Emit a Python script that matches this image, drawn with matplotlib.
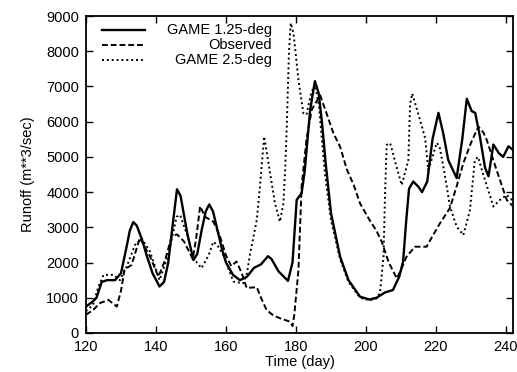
import matplotlib
matplotlib.use("Agg")
import matplotlib.pyplot as plt
from matplotlib.lines import Line2D

plt.rcParams['font.family'] = ['Liberation Sans', 'DejaVu Sans']

# runoff series, day of year vs m**3/sec
game125_day = [120, 122, 123, 124.5, 126, 128.3, 130, 131.5, 132.5, 133.5, 134.5, 136, 137.5,
               139, 141, 142.3, 143.5, 144.8, 146, 147, 148, 149, 150.7, 151.8, 153,
               154.2, 155.2, 156.3, 157.5, 158.8, 160, 162, 164, 166, 168, 170, 172, 173,
               175, 177.7, 179, 180.2, 181.6, 182.5, 184, 185.4, 186.5, 187.5, 188.5,
               190, 192.6, 195, 198.3, 201, 203, 205.4, 207.7, 209.5, 210.6, 211.5,
               212.3, 213.5, 215, 216, 217.5, 219, 220.7, 222, 223.5, 225.9, 227.5,
               228.8, 230.2, 231.2, 232.5, 234, 235, 236.4, 238, 239.2, 240.7, 242]
game125_q = [750, 900, 1000, 1450, 1500, 1500, 1700, 2400, 2900, 3150, 3050, 2650, 2150,
             1700, 1320, 1450, 2000, 3100, 4080, 3900, 3350, 2800, 2070, 2250, 2900,
             3450, 3650, 3450, 2950, 2400, 2000, 1650, 1500, 1600, 1850, 1950, 2180, 2100,
             1750, 1480, 2000, 3780, 3970, 4600, 6300, 7150, 6800, 5900, 4800,
             3400, 2170, 1500, 1030, 950, 1000, 1150, 1220, 1600, 2030, 3200,
             4100, 4300, 4150, 4000, 4300, 5500, 6250, 5700, 4910, 4400, 5500,
             6650, 6300, 6250, 5600, 4700, 4450, 5350, 5100, 5000, 5300, 5200]

obs_day = [120, 122, 124, 126.4, 128.8, 130, 131, 133, 135.4, 138.3, 140.7, 142.6, 144.5,
           146, 148, 150.5, 151.5, 152.6, 154, 156.4, 158.3, 160, 161.5, 163, 164.5,
           165.9, 168.8, 170, 171.6, 173.5, 175.4, 178.3, 179, 179.5, 180.7, 181.6, 183,
           184.5, 186.9, 188.5, 190.7, 192.6, 194.5, 196.5, 198.3, 201, 203, 204.5,
           206.5, 208.8, 210, 211.6, 214, 217.3, 219, 221.1, 224, 226, 227.8, 230,
           232.1, 233.5, 234.5, 237.3, 240.2, 242]
obs_q = [520, 650, 850, 940, 750, 1200, 1800, 1930, 2700, 2170, 1600, 2070, 2740,
         2800, 2600, 2100, 2700, 3600, 3300, 3160, 2740, 2200, 1900, 2030, 1700,
         1280, 1300, 1000, 650, 500, 420, 320, 200, 500, 1790, 4160, 5500,
         6340, 6750, 6300, 5670, 5290, 4650, 4200, 3680, 3210, 2900, 2590,
         2000, 1550, 1800, 2170, 2450, 2450, 2750, 3110, 3550, 4200, 4820, 5400,
         5860, 5700, 5480, 4630, 3780, 3600]

game25_day = [120, 122, 123.5, 125, 127.8, 129.7, 131.6, 134, 135.9, 138.3, 141, 143.5,
              145.9, 146.9, 149.2, 150.7, 153, 155, 156.4, 157.5, 159.2, 162.1, 164.9,
              166, 166.9, 168.8, 169.7, 170.9, 172.6, 174, 175.4, 176.4, 176.9, 177.3,
              178, 178.5, 179.3, 180.7, 182.1, 183, 184.3, 185.4, 186.5, 188.3, 190,
              192.6, 195, 198.3, 201, 203, 204, 205, 205.4, 205.9, 206.9, 208.5, 210.2,
              212.1, 212.6, 213.2, 215, 216.9, 217.8, 219, 220.2, 221, 222.5, 224,
              225.9, 227.8, 229.7, 231.1, 232, 233.5, 236.4, 238.3, 240.2, 242]
game25_q = [620, 800, 1300, 1650, 1650, 1500, 1880, 2500, 2690, 2310, 1500, 2220,
            3300, 3350, 2690, 2120, 1840, 2200, 2590, 2500, 2220, 1460, 1410,
            1700, 2260, 3210, 4160, 5580, 4540, 3680, 3160, 3680, 4630, 5670,
            8000, 8800, 8500, 7190, 6240, 6200, 6800, 7050, 6500, 4500, 3200,
            2100, 1450, 1000, 930, 980, 1140, 2170, 3780, 5340, 5390, 4800, 4200,
            4910, 6500, 6800, 6200, 5530, 4630, 5000, 5400, 5300, 4500, 3590,
            3020, 2780, 3490, 4910, 5000, 4500, 3590, 3780, 3920, 3750]

fig = plt.figure(figsize=(5.17, 3.72), dpi=100)
ax = fig.add_axes([86 / 517, 39 / 372, 427 / 517, 317 / 372])

solid_ls = '-'
dash_ls = (0, (3, 1.5))
dot_ls = (0, (1, 1.5))

ax.plot(game125_day, game125_q, color='black', lw=1.7, ls=solid_ls,
        solid_joinstyle='round')
ax.plot(obs_day, obs_q, color='black', lw=1.4, ls=dash_ls,
        dash_joinstyle='round')
ax.plot(game25_day, game25_q, color='black', lw=1.4, ls=dot_ls,
        dash_joinstyle='round')

ax.set_xlim(120, 242)
ax.set_ylim(0, 9000)
ax.set_xticks(range(120, 241, 20))
ax.set_yticks(range(0, 9001, 1000))
ax.tick_params(direction='in', top=True, right=True, length=5, width=1,
               labelsize=10.5, pad=5)
for s in ax.spines.values():
    s.set_linewidth(1.3)

ax.set_xlabel('Time (day)', fontsize=10.5, labelpad=1)
ax.set_ylabel('Runoff (m**3/sec)', fontsize=10.5, labelpad=8)

# gnuplot style key: sample line left, label right-aligned
key = [('GAME 1.25-deg', solid_ls, 1.7),
       ('Observed', dash_ls, 1.4),
       ('GAME 2.5-deg', dot_ls, 1.4)]
rows = [0.956, 0.910, 0.861]
for (lab, ls, lw), yy in zip(key, rows):
    ax.add_line(Line2D([0.037, 0.138], [yy, yy], transform=ax.transAxes,
                       color='black', ls=ls, lw=lw))
    ax.text(0.435, yy, lab, transform=ax.transAxes, ha='right', va='center',
            fontsize=10.5)

fig.savefig('out.png', dpi=100)
